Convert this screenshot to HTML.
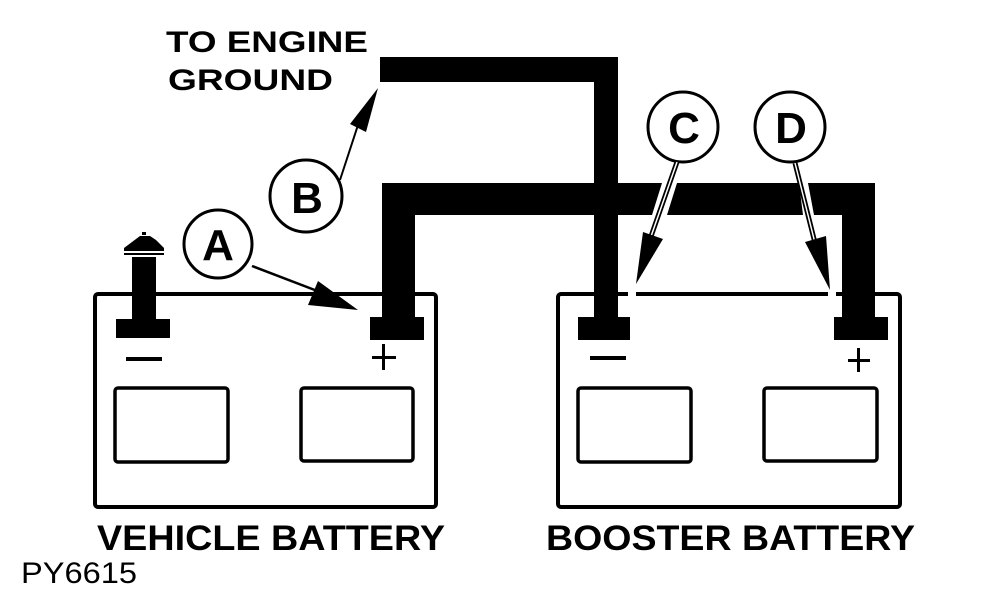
<!DOCTYPE html>
<html><head><meta charset="utf-8"><style>
html,body{margin:0;padding:0;background:#fff;}
svg{display:block;}
text{font-family:"Liberation Sans",Arial,sans-serif;fill:#000;}
</style></head><body>
<svg width="998" height="598" viewBox="0 0 998 598" xmlns="http://www.w3.org/2000/svg">
<!-- battery boxes -->
<rect x="95" y="294" width="341" height="213" rx="3" fill="none" stroke="#000" stroke-width="4"/>
<rect x="558" y="294" width="342" height="213" rx="3" fill="none" stroke="#000" stroke-width="4"/>
<!-- cells -->
<g fill="none" stroke="#000" stroke-width="3.5">
<rect x="115" y="388" width="113" height="74" rx="3"/>
<rect x="301" y="388" width="112" height="73" rx="3"/>
<rect x="578" y="388" width="113" height="74" rx="3"/>
<rect x="764" y="388" width="113" height="73" rx="3"/>
</g>
<!-- vehicle neg terminal & post -->
<rect x="116" y="319" width="54" height="19" fill="#000"/>
<rect x="132" y="257" width="24" height="62" fill="#000"/>
<path d="M124 251 L164 251 L164 248 L156 240 L150 236 L140 236 L132 242 L124 248 Z" fill="#000"/>
<rect x="142" y="232" width="4" height="3" fill="#000"/>
<rect x="124" y="253" width="40" height="2" fill="#000"/>
<!-- signs -->
<rect x="126" y="357" width="36" height="4" fill="#000"/>
<rect x="372" y="356" width="24" height="3" fill="#000"/><rect x="382" y="344" width="3" height="26" fill="#000"/>
<rect x="590" y="356" width="36" height="4" fill="#000"/>
<rect x="848" y="359" width="22" height="3" fill="#000"/><rect x="857" y="348" width="3" height="24" fill="#000"/>
<!-- vehicle pos terminal & cable -->
<rect x="370" y="317" width="54" height="23" fill="#000"/>
<rect x="382" y="183" width="33" height="136" fill="#000"/>
<rect x="382" y="183" width="493" height="32" fill="#000"/>
<rect x="842" y="183" width="33" height="136" fill="#000"/>
<rect x="834" y="317" width="54" height="23" fill="#000"/>
<!-- engine ground cable -->
<rect x="380" y="57" width="238" height="25" fill="#000"/>
<rect x="594" y="57" width="24" height="263" fill="#000"/>
<rect x="578" y="317" width="52" height="23" fill="#000"/>
<!-- gaps for C & D arrows -->
<polygon points="662,183 677,183 667,215 652,215" fill="#fff"/>
<polygon points="799,183 808,183 814,215 803,215" fill="#fff"/>
<rect x="628" y="290" width="8" height="8" fill="#fff"/>
<rect x="828" y="290" width="8" height="8" fill="#fff"/>
<!-- circles -->
<g fill="#fff" stroke="#000" stroke-width="3">
<circle cx="218" cy="244" r="34"/>
<circle cx="306" cy="196" r="36"/>
<circle cx="683" cy="127" r="35"/>
<circle cx="790" cy="127" r="35"/>
</g>
<g font-weight="bold" font-size="44" text-anchor="middle">
<text x="218" y="260">A</text>
<text x="307" y="213">B</text>
<text x="684" y="143">C</text>
<text x="791" y="143">D</text>
</g>
<!-- arrows A, B -->
<line x1="252" y1="266" x2="320" y2="292" stroke="#000" stroke-width="2.5"/>
<polygon points="358,310 308,305 318,281" fill="#000"/>
<line x1="340" y1="180" x2="358" y2="125" stroke="#000" stroke-width="2"/>
<polygon points="378,88 366,132 350,124" fill="#000"/>
<!-- arrows C, D (double line) -->
<line x1="677" y1="162" x2="648" y2="245" stroke="#000" stroke-width="5"/>
<line x1="677" y1="162" x2="648" y2="245" stroke="#fff" stroke-width="1.5"/>
<polygon points="636,284 643,232 663,239" fill="#000"/>
<line x1="795" y1="163" x2="815" y2="243" stroke="#000" stroke-width="5"/>
<line x1="795" y1="163" x2="815" y2="243" stroke="#fff" stroke-width="1.5"/>
<polygon points="830,290 805,242 826,236" fill="#000"/>
<!-- labels -->
<g font-weight="bold">
<text x="166" y="52" font-size="30" textLength="202" lengthAdjust="spacingAndGlyphs">TO ENGINE</text>
<text x="168" y="90" font-size="30" textLength="165" lengthAdjust="spacingAndGlyphs">GROUND</text>
<text x="97" y="550" font-size="35" textLength="348" lengthAdjust="spacingAndGlyphs">VEHICLE BATTERY</text>
<text x="546" y="550" font-size="35" textLength="369" lengthAdjust="spacingAndGlyphs">BOOSTER BATTERY</text>
</g>
<text x="21" y="583" font-size="30" textLength="116" lengthAdjust="spacingAndGlyphs">PY6615</text>
</svg>
</body></html>
